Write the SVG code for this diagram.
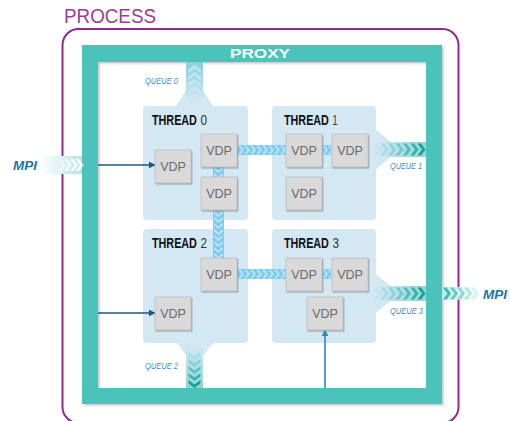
<svg xmlns="http://www.w3.org/2000/svg" xmlns:xlink="http://www.w3.org/1999/xlink" width="510" height="421" viewBox="0 0 510 421">
<style>
.th{font-family:"Liberation Sans",Arial,sans-serif;font-size:14px;fill:#111;font-weight:bold}
.thn{font-family:"Liberation Sans",Arial,sans-serif;font-size:14px;font-weight:normal;fill:#333}
.vdp rect{fill:#d9d9d9;stroke:#bdbdbd;stroke-width:0.8;filter:url(#sh)}
.vdp text{font-family:"Liberation Sans",Arial,sans-serif;font-size:12.5px;fill:#6a6a6a;text-anchor:middle}
.tbox{fill:#d3e8f3}
.q{font-family:"Liberation Sans",Arial,sans-serif;font-size:8.5px;font-style:italic;fill:#3a8ed0}
.mpi{font-family:"Liberation Sans",Arial,sans-serif;font-size:13.5px;font-style:italic;font-weight:bold;fill:#1d74a8}
.band{fill:#7ecbee}
.cl{fill:#b9e3f8}
</style>
<defs>
<filter id="sh" x="-20%" y="-20%" width="150%" height="150%"><feDropShadow dx="1" dy="1.2" stdDeviation="0.6" flood-color="#7a7a7a" flood-opacity="0.6"/></filter>
<filter id="fsh" x="-5%" y="-5%" width="110%" height="110%"><feDropShadow dx="1.5" dy="1.5" stdDeviation="1" flood-color="#888" flood-opacity="0.5"/></filter>
<path id="crs" d="M-3,-4.5 L-0.5,-4.5 L3,0 L-0.5,4.5 L-3,4.5 L0.5,0 Z"/>
<path id="cds" d="M-4.5,-3 L-4.5,-0.5 L0,3 L4.5,-0.5 L4.5,-3 L0,0.5 Z"/>
<path id="cq" d="M-4,-6 L-0.5,-6 L4,0 L-0.5,6 L-4,6 L0.5,0 Z"/>
<path id="cqu" d="M-6,4 L-6,0.5 L0,-4 L6,0.5 L6,4 L0,-0.5 Z"/>
<path id="cqd" d="M-6,-4 L-6,-0.5 L0,4 L6,-0.5 L6,-4 L0,0.5 Z"/>
<linearGradient id="gin" x1="0" y1="0" x2="1" y2="0"><stop offset="0" stop-color="#ffffff"/><stop offset="1" stop-color="#b5e4e2"/></linearGradient>
<linearGradient id="gout" x1="0" y1="0" x2="1" y2="0"><stop offset="0" stop-color="#d3e8f3"/><stop offset="1" stop-color="#8fd6d0"/></linearGradient>
<linearGradient id="gmo" x1="0" y1="0" x2="1" y2="0"><stop offset="0" stop-color="#bfe8e6"/><stop offset="1" stop-color="#ffffff"/></linearGradient>
<linearGradient id="gq0" x1="0" y1="0" x2="0" y2="1"><stop offset="0" stop-color="#86d1d8"/><stop offset="1" stop-color="#d3e8f3"/></linearGradient>
<linearGradient id="gq2" x1="0" y1="0" x2="0" y2="1"><stop offset="0" stop-color="#d3e8f3"/><stop offset="1" stop-color="#8fd6d0"/></linearGradient>
<marker id="ad" viewBox="0 0 10 10" refX="9" refY="5" markerWidth="7" markerHeight="7" orient="auto" markerUnits="userSpaceOnUse"><path d="M0,0 L10,5 L0,10 Z" fill="#1b5a7a"/></marker>
<marker id="au" viewBox="0 0 10 10" refX="9" refY="5" markerWidth="7" markerHeight="7" orient="auto" markerUnits="userSpaceOnUse"><path d="M0,0 L10,5 L0,10 Z" fill="#2a8bc8"/></marker>
</defs>
<rect width="510" height="421" fill="#ffffff"/>

<g id="process">
<text x="64" y="23" textLength="92" lengthAdjust="spacingAndGlyphs" font-family="Liberation Sans, Arial, sans-serif" font-size="21" fill="#9a3d98">PROCESS</text>
<rect x="62.5" y="29" width="396" height="394" rx="16" fill="none" stroke="#93288f" stroke-width="2"/>
</g>

<g id="proxy">
<path d="M82,45 H442 V404 H82 Z M98,62 V388 H426 V62 Z" fill="#4bc3ba" fill-rule="evenodd" filter="url(#fsh)"/>
<text x="230" y="57.5" font-family="Liberation Sans, Arial, sans-serif" font-weight="bold" font-size="13.5" fill="#ffffff" textLength="60" lengthAdjust="spacingAndGlyphs">PROXY</text>
</g>

<g id="thread0">
<rect class="tbox" x="143" y="106" width="105" height="114" rx="4"/>
<text class="th" transform="translate(152,125) scale(0.77,1)">THREAD</text>
<text class="thn" x="200.5" y="125" textLength="6.5" lengthAdjust="spacingAndGlyphs">0</text>
</g>
<g id="thread1">
<rect class="tbox" x="272" y="106" width="104" height="114" rx="4"/>
<text class="th" transform="translate(284,125) scale(0.77,1)">THREAD</text>
<text class="thn" x="332.5" y="125" textLength="5" lengthAdjust="spacingAndGlyphs">1</text>
</g>
<g id="thread2">
<rect class="tbox" x="143" y="229" width="105" height="114" rx="4"/>
<text class="th" transform="translate(152,248) scale(0.77,1)">THREAD</text>
<text class="thn" x="200.5" y="248" textLength="6.5" lengthAdjust="spacingAndGlyphs">2</text>
</g>
<g id="thread3">
<rect class="tbox" x="272" y="229" width="104" height="114" rx="4"/>
<text class="th" transform="translate(284,248) scale(0.77,1)">THREAD</text>
<text class="thn" x="332.5" y="248" textLength="6.5" lengthAdjust="spacingAndGlyphs">3</text>
</g>

<g id="connectors">
<rect x="40" y="156" width="42" height="18" fill="url(#gin)"/>
<use href="#cq" x="62" y="165" fill="#ffffff" fill-opacity="0.5"/>
<use href="#cq" x="68" y="165" fill="#ffffff" fill-opacity="0.7"/>
<use href="#cq" x="74" y="165" fill="#ffffff" fill-opacity="0.9"/>
<use href="#cq" x="79.5" y="165" fill="#ffffff"/>
<line x1="98" y1="165" x2="155" y2="165" stroke="#1b5a7a" stroke-width="1.6" marker-end="url(#ad)"/>
<line x1="98" y1="313" x2="155" y2="313" stroke="#1b5a7a" stroke-width="1.6" marker-end="url(#ad)"/>
<line x1="325" y1="388" x2="325" y2="330" stroke="#2a8bc8" stroke-width="1.6" marker-end="url(#au)"/>

<polygon points="186,90 203,90 213,106 176,106" fill="#d3e8f3"/>
<rect x="186" y="62" width="17" height="40" fill="url(#gq0)"/>
<use href="#cqu" x="194.5" y="69" fill="#bfe6ef"/>
<use href="#cqu" x="194.5" y="76" fill="#c2e7f0"/>
<use href="#cqu" x="194.5" y="83" fill="#c6e8f2"/>
<use href="#cqu" x="194.5" y="90" fill="#cbe7f3" fill-opacity="0.8"/>
<use href="#cqu" x="194.5" y="97" fill="#cfe8f3" fill-opacity="0.6"/>

<polygon points="177,343 213,343 203,356 186,356" fill="#d3e8f3"/>
<rect x="186" y="346" width="17" height="42" fill="url(#gq2)"/>
<use href="#cqd" x="194.5" y="349" fill="#c8e6f3"/>
<use href="#cqd" x="194.5" y="356" fill="#a9dce7"/>
<use href="#cqd" x="194.5" y="363" fill="#88d1d8"/>
<use href="#cqd" x="194.5" y="370" fill="#62c3c4"/>
<use href="#cqd" x="194.5" y="377" fill="#3bb3b0"/>
<use href="#cqd" x="194.5" y="384" fill="#19a29b"/>

<polygon points="374,128 391,142 391,157 374,171" fill="#d3e8f3"/>
<rect x="376" y="142" width="50" height="15" fill="url(#gout)"/>
<use href="#cq" x="377" y="149.5" fill="#c3e6f2"/>
<use href="#cq" x="384.5" y="149.5" fill="#a9dde9"/>
<use href="#cq" x="392" y="149.5" fill="#8fd3df"/>
<use href="#cq" x="399.5" y="149.5" fill="#72c9d1"/>
<use href="#cq" x="407" y="149.5" fill="#52bdc0"/>
<use href="#cq" x="414.5" y="149.5" fill="#33b1ad"/>
<use href="#cq" x="421.5" y="149.5" fill="#179f98"/>

<polygon points="374,273 391,286 391,301 374,314" fill="#d3e8f3"/>
<rect x="376" y="286" width="50" height="15" fill="url(#gout)"/>
<use href="#cq" x="377" y="293.5" fill="#c3e6f2"/>
<use href="#cq" x="384.5" y="293.5" fill="#a9dde9"/>
<use href="#cq" x="392" y="293.5" fill="#8fd3df"/>
<use href="#cq" x="399.5" y="293.5" fill="#72c9d1"/>
<use href="#cq" x="407" y="293.5" fill="#52bdc0"/>
<use href="#cq" x="414.5" y="293.5" fill="#33b1ad"/>
<use href="#cq" x="421.5" y="293.5" fill="#179f98"/>

<rect x="442" y="287" width="38" height="13" fill="url(#gmo)"/>
<use href="#cq" x="447" y="293.5" fill="#3cbab3"/>
<use href="#cq" x="454" y="293.5" fill="#66c9c3"/>
<use href="#cq" x="461" y="293.5" fill="#8dd8d3"/>
<use href="#cq" x="468" y="293.5" fill="#b3e6e3"/>
<use href="#cq" x="475" y="293.5" fill="#d8f2f0"/>

<rect class="band" x="237" y="145" width="49" height="10"/>
<g class="cl">
<use href="#crs" x="241" y="150"/><use href="#crs" x="247" y="150"/><use href="#crs" x="253" y="150"/><use href="#crs" x="259" y="150"/><use href="#crs" x="265" y="150"/><use href="#crs" x="271" y="150"/><use href="#crs" x="277" y="150"/><use href="#crs" x="283" y="150"/>
</g>
<rect class="band" x="322" y="145" width="10" height="10"/>
<g class="cl"><use href="#crs" x="325" y="150"/><use href="#crs" x="331" y="150"/></g>
<rect class="band" x="213" y="166" width="11" height="11"/>
<g class="cl"><use href="#cds" x="218.5" y="170"/><use href="#cds" x="218.5" y="176"/></g>
<rect class="band" x="213" y="210" width="11" height="48"/>
<g class="cl">
<use href="#cds" x="218.5" y="214"/><use href="#cds" x="218.5" y="220"/><use href="#cds" x="218.5" y="226"/><use href="#cds" x="218.5" y="232"/><use href="#cds" x="218.5" y="238"/><use href="#cds" x="218.5" y="244"/><use href="#cds" x="218.5" y="250"/><use href="#cds" x="218.5" y="256"/>
</g>
<rect class="band" x="237" y="269" width="49" height="10"/>
<g class="cl">
<use href="#crs" x="241" y="274"/><use href="#crs" x="247" y="274"/><use href="#crs" x="253" y="274"/><use href="#crs" x="259" y="274"/><use href="#crs" x="265" y="274"/><use href="#crs" x="271" y="274"/><use href="#crs" x="277" y="274"/><use href="#crs" x="283" y="274"/>
</g>
<rect class="band" x="322" y="269" width="10" height="10"/>
<g class="cl"><use href="#crs" x="325" y="274"/><use href="#crs" x="331" y="274"/></g>
</g>

<g id="vdp0a" class="vdp"><rect x="155" y="150" width="36" height="33"/><text x="173" y="170.5">VDP</text></g>
<g id="vdp0b" class="vdp"><rect x="201" y="134" width="36" height="33"/><text x="219" y="154.5">VDP</text></g>
<g id="vdp0c" class="vdp"><rect x="201" y="177" width="36" height="33"/><text x="219" y="197.5">VDP</text></g>
<g id="vdp1a" class="vdp"><rect x="286" y="134" width="36" height="33"/><text x="304" y="154.5">VDP</text></g>
<g id="vdp1b" class="vdp"><rect x="332" y="134" width="36" height="33"/><text x="350" y="154.5">VDP</text></g>
<g id="vdp1c" class="vdp"><rect x="286" y="177" width="36" height="33"/><text x="304" y="197.5">VDP</text></g>
<g id="vdp2a" class="vdp"><rect x="201" y="258" width="36" height="33"/><text x="219" y="278.5">VDP</text></g>
<g id="vdp2b" class="vdp"><rect x="155" y="297" width="36" height="33"/><text x="173" y="317.5">VDP</text></g>
<g id="vdp3a" class="vdp"><rect x="286" y="258" width="36" height="33"/><text x="304" y="278.5">VDP</text></g>
<g id="vdp3b" class="vdp"><rect x="332" y="258" width="36" height="33"/><text x="350" y="278.5">VDP</text></g>
<g id="vdp3c" class="vdp"><rect x="307" y="297" width="36" height="33"/><text x="325" y="317.5">VDP</text></g>

<g id="labels">
<text class="mpi" x="13" y="170">MPI</text>
<text class="mpi" x="483" y="298.5">MPI</text>
<text class="q" x="145" y="84" textLength="33" lengthAdjust="spacingAndGlyphs">QUEUE 0</text>
<text class="q" x="390" y="169" textLength="32" lengthAdjust="spacingAndGlyphs">QUEUE 1</text>
<text class="q" x="145" y="369" textLength="33" lengthAdjust="spacingAndGlyphs">QUEUE 2</text>
<text class="q" x="390" y="314" textLength="33" lengthAdjust="spacingAndGlyphs">QUEUE 3</text>
</g>
</svg>
